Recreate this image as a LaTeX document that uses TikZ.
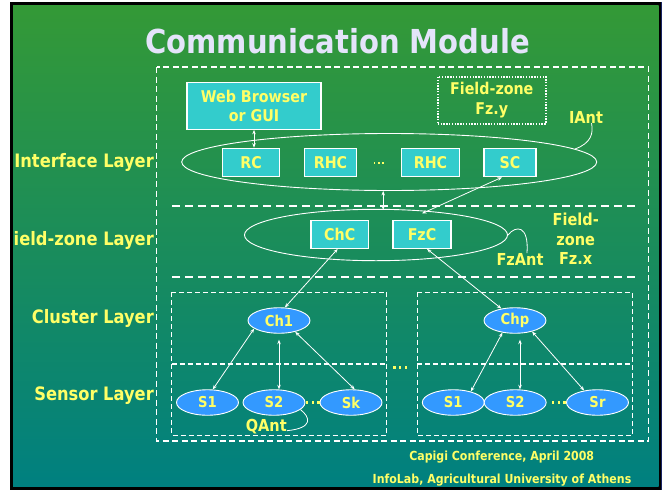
\documentclass[tikz,border=0pt]{standalone}
\usepackage{fontspec}
\setmainfont{DejaVu Sans}[FakeStretch=0.88]
\usetikzlibrary{shapes.geometric,arrows.meta,calc}
\definecolor{slidetop}{RGB}{52,153,54}
\definecolor{slidebot}{RGB}{0,128,128}
\definecolor{txtyellow}{RGB}{255,255,102}
\definecolor{titlelav}{RGB}{228,228,250}
\definecolor{boxcyan}{RGB}{51,204,204}
\definecolor{sensblue}{RGB}{51,153,255}
\definecolor{framenavy}{RGB}{25,35,100}
\tikzset{
  ytext/.style={text=txtyellow, inner sep=0pt, align=center},
  lbl/.style={ytext, font=\bfseries\fontsize{16.5}{20}\selectfont},
  layerlbl/.style={ytext, anchor=east, font=\bfseries\fontsize{18.5}{22}\selectfont},
  small/.style={ytext, font=\bfseries\fontsize{12.5}{15}\selectfont},
  cbox/.style={rectangle, fill=boxcyan, draw=white, line width=1.1pt, inner sep=0pt,
    text=txtyellow, align=center, font=\bfseries\fontsize{16.2}{19}\selectfont},
  dotbox/.style={rectangle, draw=white, line width=1.5pt, dash pattern=on 1.4pt off 1.4pt,
    inner sep=0pt, text=txtyellow, align=center, font=\bfseries\fontsize{16.2}{20}\selectfont},
  ring/.style={ellipse, draw=white, line width=0.9pt, inner sep=0pt},
  sens/.style={ellipse, fill=sensblue, draw=white, line width=0.9pt, inner sep=0pt,
    minimum width=62pt, minimum height=25.5pt, text=txtyellow,
    font=\bfseries\fontsize{15}{17}\selectfont},
  dbl/.style={draw=white, line width=0.8pt,
    {Stealth[length=4.5pt,width=3.5pt]}-{Stealth[length=4.5pt,width=3.5pt]}},
  ant/.style={draw=white, line width=0.8pt},
  outerdash/.style={draw=white, line width=1.2pt, dash pattern=on 6pt off 3.5pt},
  layerdash/.style={draw=white, line width=2pt, dash pattern=on 8pt off 5pt},
  clustdash/.style={draw=white, line width=1.2pt, dash pattern=on 5pt off 3pt},
  ydot/.style={fill=txtyellow}
}
\begin{document}
\begin{tikzpicture}[x=1pt,y=-1pt]
\useasboundingbox (0,0) rectangle (667,490);
\fill[white] (0,0) rectangle (667,490);
% slide frame and background
\fill[black] (10,2) rectangle (661,490);
\shade[top color=slidetop, bottom color=slidebot] (13,5) rectangle (658.5,486.5);
\draw[framenavy, line width=1.5pt] (661.6,2) -- (661.6,490);

\begin{scope}
\clip (13,5) rectangle (658.5,486.5);

% title
\node[anchor=base, text=titlelav, inner sep=0pt,
      font=\bfseries\fontsize{33}{36}\selectfont] (title) at (337.5,53.5) {Communication Module};

% outer module border and layer separators
\draw[outerdash] (156.5,67) rectangle (648.5,441);
\draw[layerdash] (172,205.7) -- (637,205.7);
\draw[layerdash] (172,276.7) -- (637,276.7);

% cluster boxes
\draw[clustdash] (171.7,292.3) rectangle (386.7,435.3);
\draw[clustdash] (171.7,364) -- (386.7,364);
\draw[clustdash] (417.3,292.3) rectangle (632.7,435.3);
\draw[clustdash] (417.3,364) -- (632.7,364);

% layer labels
\node[layerlbl] (lyif) at (154,162.7) {Interface Layer};
\node[layerlbl] (lyfz) at (154,240) {Field-zone Layer};
\node[layerlbl] (lycl) at (154,318.3) {Cluster Layer};
\node[layerlbl] (lyse) at (154,396) {Sensor Layer};

% interface layer
\node[ring, minimum width=415pt, minimum height=57pt] (ifell) at (389.2,162) {};
\node[cbox, minimum width=134pt, minimum height=47pt] (web) at (254,105.8) {Web Browser\\or GUI};
\node[dotbox, minimum width=108pt, minimum height=47pt] (fzy) at (491.8,100.3) {Field-zone\\Fz.y};
\node[lbl] (iant) at (586,117) {IAnt};
\node[cbox, minimum width=56.6pt, minimum height=28.4pt] (rc) at (251,162.5) {RC};
\node[cbox, minimum width=52.4pt, minimum height=28.4pt] (rhca) at (330.5,162.5) {RHC};
\node[cbox, minimum width=57.6pt, minimum height=28.4pt] (rhcb) at (430.5,162.5) {RHC};
\node[cbox, minimum width=52pt, minimum height=28.4pt] (sc) at (510,162.5) {SC};
\foreach \x in {374.6,378.8,383} \fill[ydot] (\x-0.8,162) rectangle ++(1.6,1.6);

% field-zone layer
\node[ring, minimum width=263pt, minimum height=51.4pt] (fzell) at (376,235) {};
\node[cbox, minimum width=57.4pt, minimum height=28.3pt] (chc) at (339.7,234.2) {ChC};
\node[cbox, minimum width=58pt, minimum height=28.3pt] (fzc) at (422,234.2) {FzC};
\node[lbl] (fzant) at (520,259.3) {FzAnt};
\node[lbl, font=\bfseries\fontsize{16.5}{19.7}\selectfont] (fzx) at (575.7,238.8) {Field-\\zone\\Fz.x};

% cluster and sensor layers
\node[sens] (ch1) at (279,320.5) {Ch1};
\node[sens] (chp) at (515,320.5) {Chp};
\node[sens] (s1a) at (207.5,402.5) {S1};
\node[sens] (s2a) at (274,402.5) {S2};
\node[sens] (ska) at (351,402.5) {Sk};
\node[sens] (s1b) at (453.3,402.5) {S1};
\node[sens] (s2b) at (515.2,402.5) {S2};
\node[sens] (srb) at (597.5,402.5) {Sr};
\node[lbl] (qant) at (266.3,426.7) {QAnt};
% dotted gaps between sensors and between clusters
\foreach \x in {306.7,312.7,318.5,553,558.7,564.4}
  \fill[ydot] (\x-1.2,401.2) rectangle ++(2.4,2.4);
\foreach \x in {394.3,400.1,405.9}
  \fill[ydot] (\x-1.2,366.2) rectangle ++(2.4,2.4);

% links
\draw[dbl] (web.south) -- (web.south |- rc.north);
\draw[dbl] ([xshift=-6pt]ifell.south) -- ([xshift=-6pt,yshift=-1pt]ifell.south |- fzell.north);
\draw[dbl] ([xshift=-8pt]sc.south) -- ([yshift=6pt]fzc.north);
\draw[dbl] ([xshift=-2pt]chc.south) -- (ch1.66);
\draw[dbl] ([xshift=5pt]fzc.south) -- (chp.139);
\draw[dbl] (ch1.198) -- (s1a.68);
\draw[dbl] ([yshift=-6pt]ch1.south) -- (ch1.south |- s2a.north);
\draw[dbl] (ch1.325) -- (ska.74);
\draw[dbl] (chp.224) -- (s1b.32);
\draw[dbl] ([xshift=5pt,yshift=-6pt]chp.south) -- ([xshift=5pt]chp.south |- s2b.north);
\draw[dbl] (chp.327) -- (srb.138);

% antennas
\draw[ant] ([xshift=5.5pt]iant.south) .. controls (593.5,133) and (591.5,143) .. (ifell.4);
\draw[ant] (fzell.east) .. controls (516,225) and (529,225) .. ([xshift=7pt]fzant.north);
\draw[ant] (s2a.-15) .. controls (310,417) and (314,428) .. ([yshift=-4pt]qant.east);

% footer
\node[small] (conf) at (501.7,456.7) {Capigi Conference, April 2008};
\node[small] (lab) at (502,480) {InfoLab, Agricultural University of Athens};
\end{scope}
\end{tikzpicture}
\end{document}
